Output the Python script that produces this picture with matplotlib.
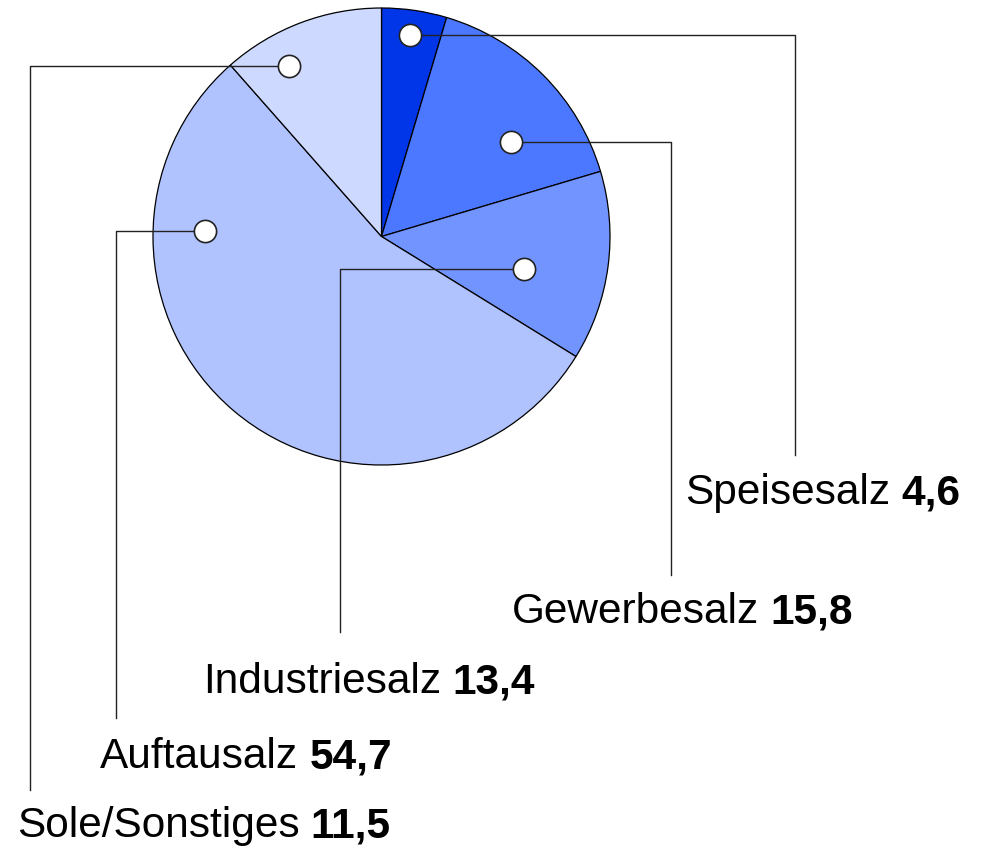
import numpy as np
import matplotlib.pyplot as plt

plt.rcParams['font.family'] = ['Liberation Sans', 'DejaVu Sans']

# data
categories = ["Speisesalz", "Gewerbesalz", "Industriesalz", "Auftausalz", "Sole/Sonstiges"]
values = [4.6, 15.8, 13.4, 54.7, 11.5]
value_labels = ["4,6", "15,8", "13,4", "54,7", "11,5"]
colors = ["#0036e8", "#4c78ff", "#7294ff", "#b0c3ff", "#cdd9ff"]

# layout (pixel space, y down)
W, H = 986, 855
cx, cy, R = 381.5, 236.5, 228.5
# anchor dot: screen angle clockwise from top, fraction of radius
anchor_ang = [8, 54, 103, 271.8, 331.5]
anchor_rf = [0.89, 0.70, 0.64, 0.773, 0.85]
elbow_x = [795, 671, 340, 116, 30]
line_end_y = [455, 575, 632, 718, 790]
label_x = [685, 512, 203, 100, 17]
label_base = [504, 623, 693, 768, 837]

fig = plt.figure(figsize=(W / 100, H / 100), dpi=100)
ax = fig.add_axes([0, 0, 1, 1])

# y axis is inverted, so counterclock in data = clockwise on screen
ax.pie(values, colors=colors, center=(cx, cy), radius=R, startangle=-90,
       counterclock=True, frame=True,
       wedgeprops=dict(edgecolor='black', linewidth=0.9))
ax.set_xlim(0, W)
ax.set_ylim(H, 0)
ax.set_aspect('equal')
ax.axis('off')

for i in range(len(categories)):
    a = np.deg2rad(anchor_ang[i])
    px = cx + anchor_rf[i] * R * np.sin(a)
    py = cy - anchor_rf[i] * R * np.cos(a)
    ax.plot([px, elbow_x[i], elbow_x[i]], [py, py, line_end_y[i]],
            color='#222222', lw=1.0, zorder=3)
    ax.plot(px, py, 'o', ms=16, mfc='white', mec='#222222', mew=1.2, zorder=4)

    t = ax.text(label_x[i], label_base[i], categories[i], fontsize=30.5,
                ha='left', va='baseline', color='black')
    ax.annotate(value_labels[i], xy=(1, 0), xycoords=t, xytext=(8, 0),
                textcoords='offset points', fontsize=30.5, fontweight='bold',
                ha='left', va='bottom', color='black')

fig.savefig('out.png', dpi=100)
